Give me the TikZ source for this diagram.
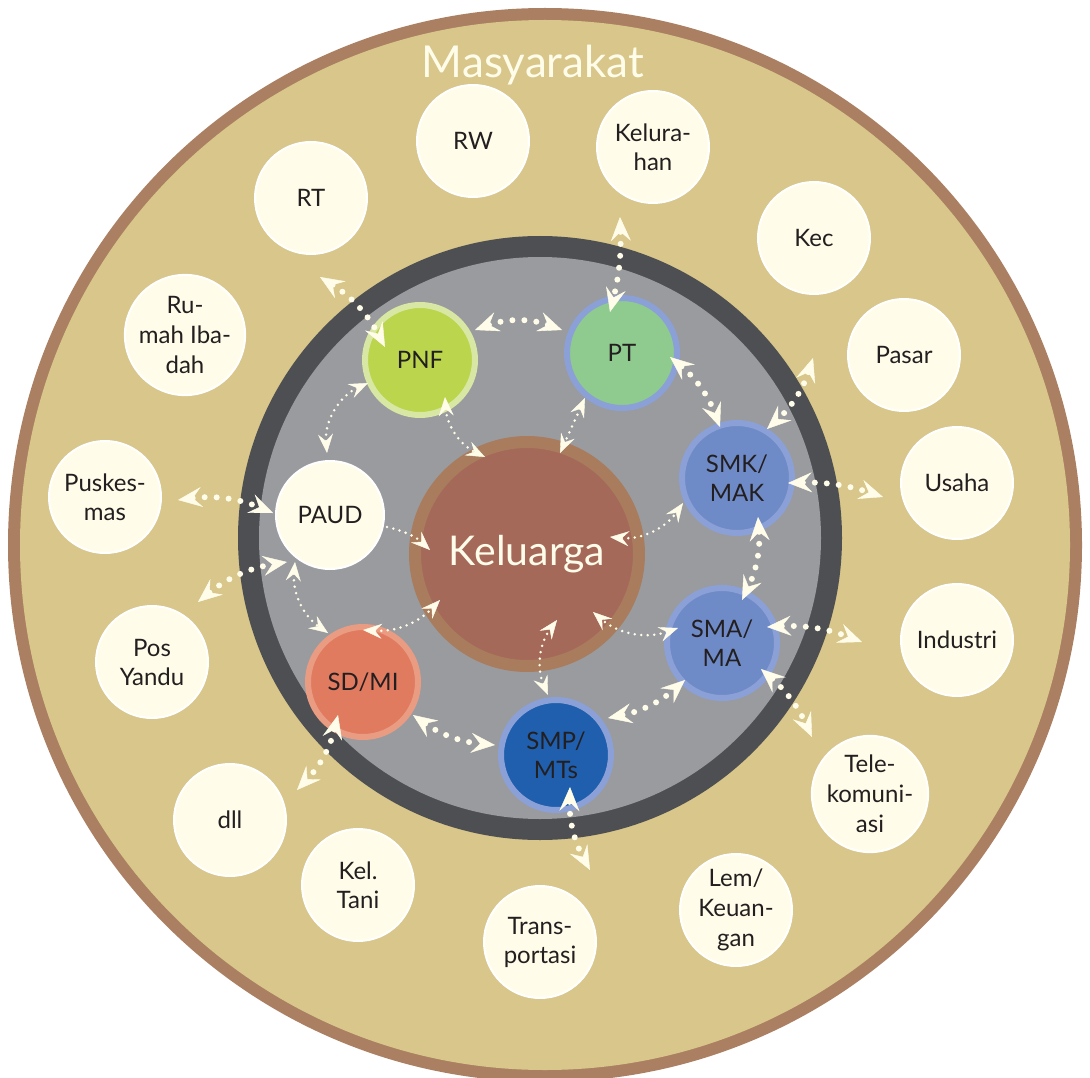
\documentclass[tikz,border=0pt]{standalone}
\usepackage{fontspec}
\setmainfont{Lato}
\usetikzlibrary{arrows.meta, calc}

\definecolor{ringbrown}{HTML}{AB7F62}
\definecolor{sand}{HTML}{D8C68A}
\definecolor{darkring}{HTML}{4E4F52}
\definecolor{grayzone}{HTML}{9A9B9F}
\definecolor{cream}{HTML}{FFFDE9}
\definecolor{ink}{HTML}{231F20}
\definecolor{kelfill}{HTML}{A5695A}
\definecolor{kelring}{HTML}{A87C5C}
\definecolor{pnffill}{HTML}{BBD54C}
\definecolor{pnfring}{HTML}{D8E7A4}
\definecolor{ptfill}{HTML}{8FCA8F}
\definecolor{blufill}{HTML}{6F8BC7}
\definecolor{bluring}{HTML}{8AA0D6}
\definecolor{smpfill}{HTML}{1F5FAD}
\definecolor{sdfill}{HTML}{E07B60}
\definecolor{sdring}{HTML}{EA9C83}

\begin{document}
\begin{tikzpicture}[
		x=1pt, y=-1pt,
		label/.style={font=\fontsize{24}{29}\selectfont, text=ink, align=center},
		lembaga/.style={circle, draw=white, line width=2pt, fill=cream, minimum size=112pt, inner sep=0pt, label},
		sekolah/.style={circle, line width=6pt, minimum size=110pt, inner sep=0pt, label},
		tipis/.style={draw=cream, line width=2.8pt, line cap=round, dash pattern=on 0pt off 6.5pt},
		tebal/.style={draw=cream, line width=6pt, line cap=round, dash pattern=on 0pt off 12pt},
		kecil/.style={{Stealth[length=19pt, width=15pt, inset=7pt, line width=0.4pt]}-{Stealth[length=19pt, width=15pt, inset=7pt, line width=0.4pt]}},
		besar/.style={{Stealth[length=24pt, width=20pt, inset=9pt, line width=0.4pt]}-{Stealth[length=24pt, width=20pt, inset=9pt, line width=0.4pt]}}
		]
		\useasboundingbox (0,0) rectangle (1090,1078);
		
		% rings
		\fill[ringbrown] (545,545) circle (537);
		\fill[sand] (545,545) circle (525);
		\fill[darkring] (540,538) circle (302);
		\fill[grayzone] (540,538) circle (281);
		
		\node[font=\fontsize{44}{50}\selectfont, text=cream, anchor=base] (masy) at (533,78) {Masyarakat};
		
		% centre
		\node[circle, fill=kelfill, draw=kelring, line width=12pt, minimum size=224pt, inner sep=0pt,
			font=\fontsize{41}{48}\selectfont, text=cream] (kel) at (527,554) {Keluarga};
		
		% schools
		\node[sekolah, fill=pnffill, draw=pnfring] (pnf) at (420,360) {PNF};
		\node[sekolah, fill=ptfill, draw=bluring] (pt) at (622,353) {PT};
		\node[sekolah, fill=blufill, draw=bluring] (smk) at (737,478) {SMK/\\MAK};
		\node[sekolah, fill=blufill, draw=bluring] (sma) at (722,643) {SMA/\\MA};
		\node[sekolah, fill=smpfill, draw=bluring] (smp) at (556,755) {SMP/\\MTs};
		\node[sekolah, fill=sdfill, draw=sdring] (sd) at (363,682) {SD/MI};
		\node[lembaga, minimum size=108pt] (paud) at (330,515) {PAUD};
		
		% community
		\node[lembaga] (rt) at (311,198) {RT};
		\node[lembaga] (rw) at (473,141) {RW};
		\node[lembaga] (kelurahan) at (653,147) {Kelura-\\han};
		\node[lembaga] (kec) at (814,238) {Kec};
		\node[lembaga, font=\fontsize{24}{30}\selectfont] (ibadah) at (185,335) {Ru-\\mah Iba-\\dah};
		\node[lembaga] (pasar) at (904,355) {Pasar};
		\node[lembaga] (puskesmas) at (105,497) {Puskes-\\mas};
		\node[lembaga] (usaha) at (957,483) {Usaha};
		\node[lembaga] (posyandu) at (152,662) {Pos\\Yandu};
		\node[lembaga] (industri) at (957,640) {Industri};
		\node[lembaga] (dll) at (230,820) {dll};
		\node[lembaga, font=\fontsize{24}{30}\selectfont] (telekom) at (870,794) {Tele-\\komuni-\\asi};
		\node[lembaga] (tani) at (358,885) {Kel.\\Tani};
		\node[lembaga] (transport) at (540,942) {Trans-\\portasi};
		\node[lembaga, font=\fontsize{24}{30}\selectfont] (keuangan) at (736,910) {Lem/\\Keuan-\\gan};
		
		% links inside the school ring
		\draw[tipis, kecil] ($(pnf)+(-52,23)$) to[bend right=35] ($(paud)+(-3,-62)$);
		\draw[tipis, kecil] ($(pnf)+(25,37)$) to[bend right=30] ($(kel)+(-42,-97)$);
		\draw[tipis, kecil] ($(pt)+(-37,45)$) -- ($(kel)+(33,-101)$);
		\draw[tipis, -{Stealth[length=19pt, width=15pt, inset=7pt, line width=0.4pt]}] ($(paud)+(57,12)$) to[bend left=15] ($(kel)+(-97,-4)$);
		\draw[tipis, kecil] ($(paud)+(-35,47)$) to[bend right=30] ($(sd)+(-35,-49)$);
		\draw[tipis, kecil] ($(sd)+(0,-52)$) to[bend right=25] ($(kel)+(-87,46)$);
		\draw[tipis, kecil] ($(smp)+(-8,-60)$) to[bend left=30] ($(kel)+(30,66)$);
		\draw[tipis, kecil] ($(sma)+(-44,-15)$) to[bend left=30] ($(kel)+(66,58)$);
		\draw[tipis, kecil] ($(kel)+(83,-17)$) to[bend right=30] ($(smk)+(-54,25)$);
		
		% links between schools and to the community
		\draw[tebal, besar] ($(rt)+(9,79)$) to[bend left=15] ($(pnf)+(-35,-13)$);
		\draw[tebal, besar] ($(pnf)+(55,-30)$) to[bend left=20] ($(pt)+(-60,-23)$);
		\draw[tebal, besar] ($(kelurahan)+(-33,70)$) to[bend left=8] ($(pt)+(-12,-41)$);
		\draw[tebal, besar] ($(pt)+(48,4)$) to[bend left=15] ($(smk)+(-17,-51)$);
		\draw[tebal, besar] ($(pasar)+(-91,3)$) to[bend left=15] ($(smk)+(30,-49)$);
		\draw[tebal, besar] ($(smk)+(51,5)$) to[bend left=10] ($(usaha)+(-74,14)$);
		\draw[tebal, besar] ($(smk)+(21,39)$) to[bend left=15] ($(sma)+(20,-43)$);
		\draw[tebal, besar] ($(sma)+(45,-16)$) to[bend left=12] ($(industri)+(-95,2)$);
		\draw[tebal, besar] ($(sma)+(39,26)$) to[bend left=12] ($(telekom)+(-58,-57)$);
		\draw[tebal, besar] ($(smp)+(52,-37)$) to[bend right=15] ($(sma)+(-37,37)$);
		\draw[tebal, besar] ($(sd)+(50,33)$) to[bend right=15] ($(smp)+(-61,-10)$);
		\draw[tebal, besar] ($(smp)+(14,32)$) to[bend right=15] ($(transport)+(50,-72)$);
		\draw[tebal, besar] ($(sd)+(-25,33)$) to[bend left=15] ($(dll)+(67,-30)$);
		\draw[tebal, besar] ($(puskesmas)+(73,3)$) to[bend left=15] ($(paud)+(-57,-2)$);
		\draw[tebal, besar] ($(posyandu)+(46,-60)$) to[bend left=15] ($(paud)+(-43,47)$);
		
	\end{tikzpicture}
\end{document}
